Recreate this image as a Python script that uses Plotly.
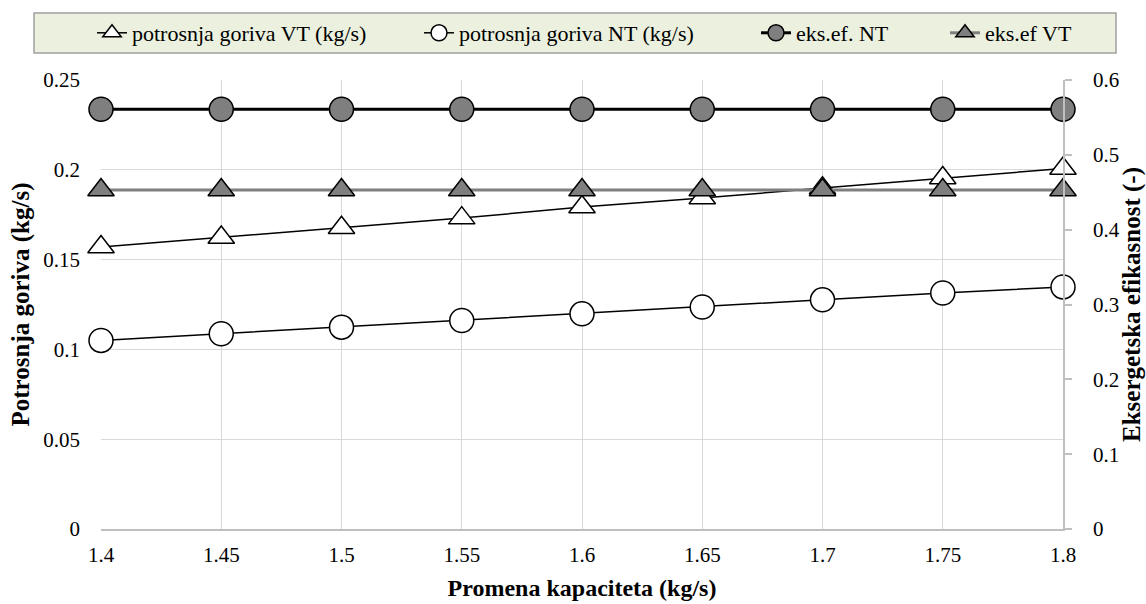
import plotly.graph_objects as go
from plotly.subplots import make_subplots

kapacitet = [1.4, 1.45, 1.5, 1.55, 1.6, 1.65, 1.7, 1.75, 1.8]
potrosnja_vt = [0.157, 0.1623, 0.1677, 0.1731, 0.1793, 0.1843, 0.1898, 0.1954, 0.2007]
potrosnja_nt = [0.105, 0.1087, 0.1124, 0.1161, 0.1198, 0.1236, 0.1276, 0.1314, 0.1348]
eks_ef_nt = [0.561, 0.561, 0.561, 0.561, 0.561, 0.561, 0.561, 0.561, 0.561]
eks_ef_vt = [0.453, 0.453, 0.453, 0.453, 0.453, 0.453, 0.453, 0.453, 0.453]

x_tick_labels = ["1.4", "1.45", "1.5", "1.55", "1.6", "1.65", "1.7", "1.75", "1.8"]
y_left_ticks = [0, 0.05, 0.1, 0.15, 0.2, 0.25]
y_left_labels = ["0", "0.05", "0.1", "0.15", "0.2", "0.25"]
y_right_ticks = [0, 0.1, 0.2, 0.3, 0.4, 0.5, 0.6]
y_right_labels = ["0", "0.1", "0.2", "0.3", "0.4", "0.5", "0.6"]

FONT = "Liberation Serif"
GRID = "#D9D9D9"
AXIS = "#BFBFBF"
GRAY = "#7F7F7F"

fig = make_subplots(specs=[[{"secondary_y": True}]])

fig.add_trace(go.Scatter(
    x=kapacitet, y=potrosnja_vt, mode="lines+markers", cliponaxis=False,
    name="potrosnja goriva VT (kg/s)", legend="legend", showlegend=True,
    line=dict(color="black", width=1.5),
    marker=dict(symbol="triangle-up", size=23, color="white",
                line=dict(color="black", width=1.5)),
), secondary_y=False)

fig.add_trace(go.Scatter(
    x=kapacitet, y=potrosnja_nt, mode="lines+markers", cliponaxis=False,
    name="potrosnja goriva NT (kg/s)", legend="legend2", showlegend=True,
    line=dict(color="black", width=1.5),
    marker=dict(symbol="circle", size=24, color="white",
                line=dict(color="black", width=1.5)),
), secondary_y=False)

fig.add_trace(go.Scatter(
    x=kapacitet, y=eks_ef_nt, mode="lines+markers", cliponaxis=False,
    name="eks.ef. NT", legend="legend3", showlegend=True,
    line=dict(color="black", width=3),
    marker=dict(symbol="circle", size=24, color=GRAY,
                line=dict(color="black", width=1.5)),
), secondary_y=True)

fig.add_trace(go.Scatter(
    x=kapacitet, y=eks_ef_vt, mode="lines+markers", cliponaxis=False,
    name="eks.ef VT", legend="legend4", showlegend=True,
    line=dict(color=GRAY, width=3),
    marker=dict(symbol="triangle-up", size=23, color=GRAY,
                line=dict(color="black", width=1.5)),
), secondary_y=True)

W, H = 1146, 604
L, R, T, B = 101, 83, 80, 75


def cx(p):
    return p / W


def cy(p):
    return 1 - p / H


leg_common = dict(
    orientation="h", yanchor="middle", xanchor="left",
    xref="container", yref="container",
    bgcolor="rgba(0,0,0,0)", borderwidth=0,
    font=dict(family=FONT, size=22, color="black"),
)
leg_y = cy(33)

fig.update_layout(
    width=W, height=H, showlegend=True,
    margin=dict(l=L, r=R, t=T, b=B, autoexpand=False),
    paper_bgcolor="white", plot_bgcolor="white",
    font=dict(family=FONT, size=21, color="black"),
    legend=dict(x=cx(92), y=leg_y, **leg_common),
    legend2=dict(x=cx(419), y=leg_y, **leg_common),
    legend3=dict(x=cx(756), y=leg_y, **leg_common),
    legend4=dict(x=cx(945), y=leg_y, **leg_common),
    shapes=[dict(
        type="rect", xref="paper", yref="paper", layer="below",
        x0=(34 - L) / (W - L - R), x1=(1116 - L) / (W - L - R),
        y0=1 + (T - 53) / (H - T - B), y1=1 + (T - 13) / (H - T - B),
        fillcolor="#EBF1DE", line=dict(color="#A0A0A0", width=1.5),
    )],
)

fig.update_xaxes(
    domain=[0, 1],
    range=[1.4, 1.8], tickvals=kapacitet, ticktext=x_tick_labels,
    showgrid=True, gridcolor=GRID, gridwidth=1,
    showline=True, linecolor=AXIS, linewidth=1.5,
    zeroline=False, ticks="", ticklabelstandoff=6,
    tickfont=dict(family=FONT, size=21, color="black"),
    title=dict(text="<b>Promena kapaciteta (kg/s)</b>", standoff=13,
               font=dict(family=FONT, size=24, color="black")),
)

fig.update_yaxes(
    range=[0, 0.25], tickvals=y_left_ticks, ticktext=y_left_labels,
    showgrid=True, gridcolor=GRID, gridwidth=1,
    showline=False, zeroline=False, ticks="", ticklabelstandoff=20,
    tickfont=dict(family=FONT, size=21, color="black"),
    title=dict(text="<b>Potrosnja goriva (kg/s)</b>", standoff=6,
               font=dict(family=FONT, size=25, color="black")),
    secondary_y=False,
)

fig.update_yaxes(
    range=[0, 0.6], tickvals=y_right_ticks, ticktext=y_right_labels,
    showgrid=False, showline=True, linecolor=AXIS, linewidth=1.5,
    zeroline=False, ticks="outside", ticklen=7, tickcolor=AXIS, tickwidth=1.5,
    ticklabelstandoff=17,
    tickfont=dict(family=FONT, size=21, color="black"),
    title=dict(text="<b>Eksergetska efikasnost (-)</b>", standoff=8,
               font=dict(family=FONT, size=25, color="black")),
    secondary_y=True,
)

fig.write_html("out.html", config={"displayModeBar": False},
               post_script="document.body.style.margin='0px';")
